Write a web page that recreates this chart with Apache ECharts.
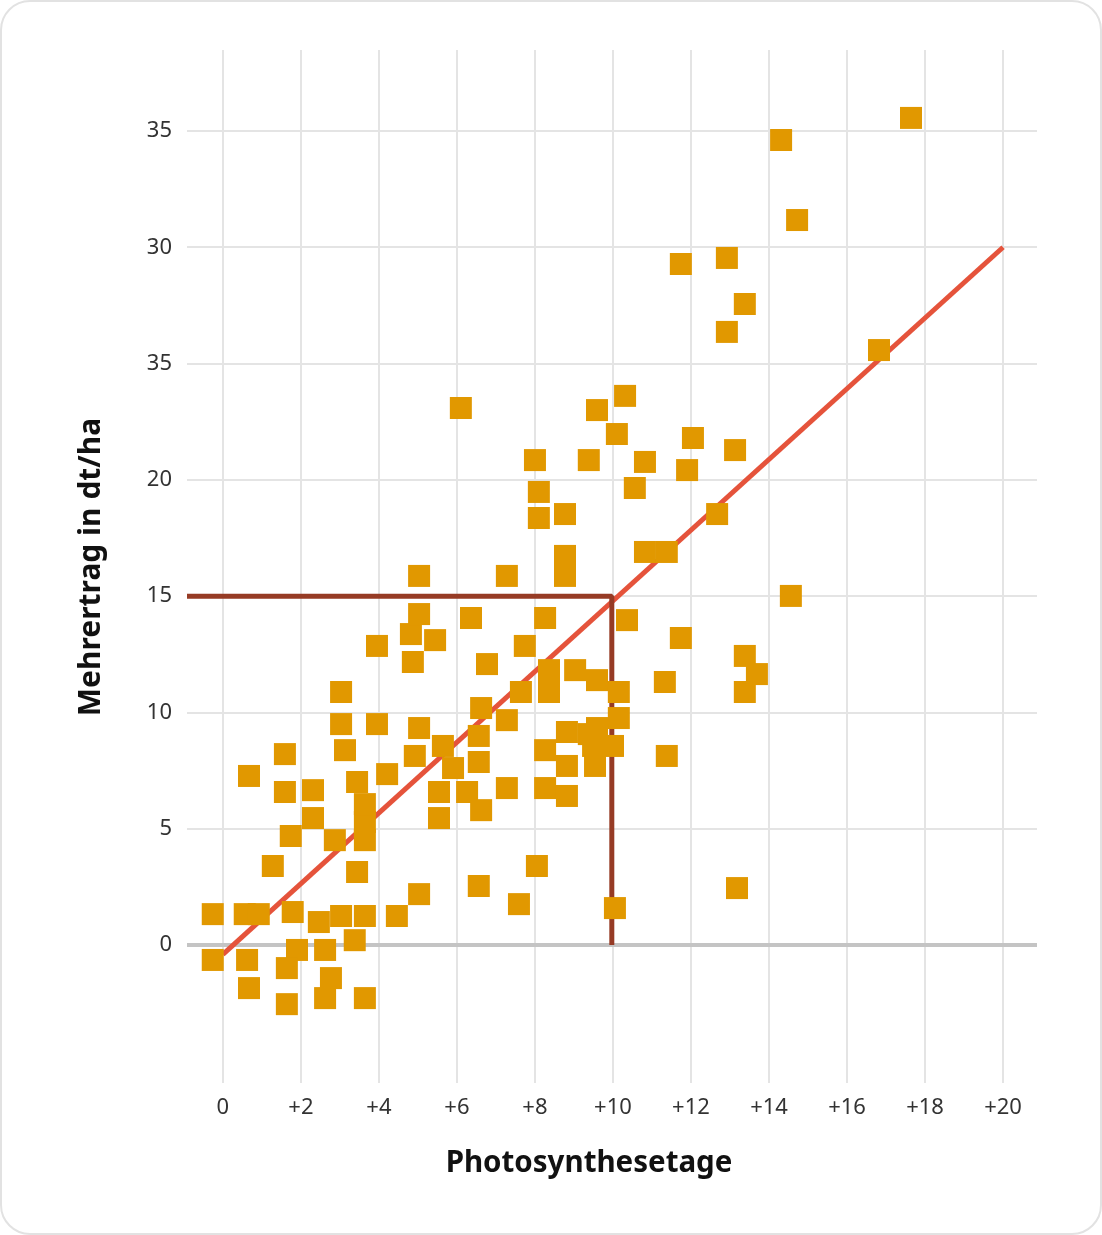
<!DOCTYPE html>
<html><head><meta charset="utf-8">
<script src="https://cdn.jsdelivr.net/npm/echarts@6/dist/echarts.min.js"></script>
<style>
html,body{margin:0;padding:0;background:#fff;}
#chart{position:absolute;left:0;top:0;width:1102px;height:1235px;}
#card{position:absolute;left:0;top:0;width:1102px;height:1235px;box-sizing:border-box;border:2px solid #e2e2e2;border-radius:30px;pointer-events:none;}
</style></head><body>
<div id="chart"></div><div id="card"></div>
<script>
// Photosynthesis days (x) and extra yield in dt/ha (y)
const xValues = [
  -0.26, 0.56, 0.92, 1.79, 2.46, 3.03, 3.64, 4.46, 3.38, -0.26,
  0.62, 1.90, 2.62, 1.64, 2.77, 0.67, 1.64, 2.62, 3.64, 1.28,
  3.44, 1.74, 2.87, 3.64, 3.64, 3.64, 2.31, 1.59, 2.31, 3.44,
  4.21, 0.67, 1.59, 3.13, 3.03, 3.95, 3.03, 3.95, 5.03, 4.92,
  5.64, 5.90, 5.54, 6.26, 5.54, 6.62, 7.28, 6.56, 6.56, 6.62,
  7.28, 6.77, 4.82, 5.44, 4.87, 5.03, 5.03, 6.36, 7.28, 7.74,
  7.64, 8.26, 8.36, 8.36, 9.03, 9.59, 10.15, 10.15, 8.82, 9.38,
  9.59, 9.49, 10.00, 9.54, 8.82, 8.26, 8.26, 8.82, 8.05, 6.56,
  5.03, 7.59, 10.05, 10.36, 8.77, 8.77, 8.77, 8.10, 8.10, 8.00,
  9.38, 6.10, 9.59, 10.31, 10.10, 10.82, 10.56, 12.05, 11.90, 13.13,
  12.67, 10.82, 11.38, 14.56, 11.74, 11.33, 13.38, 13.69, 13.38, 11.38,
  13.18, 17.64, 14.31, 14.72, 11.74, 12.92, 13.38, 12.92, 16.82
];
const yValues = [
  1.33, 1.33, 1.33, 1.42, 0.99, 1.25, 1.25, 1.25, 0.21, -0.64,
  -0.64, -0.21, -0.21, -0.99, -1.42, -1.85, -2.54, -2.28, -2.28, 3.40,
  3.14, 4.69, 4.51, 4.51, 5.29, 6.06, 5.46, 6.58, 6.66, 7.01,
  7.35, 7.27, 8.21, 8.38, 9.50, 9.50, 10.88, 12.86, 9.33, 8.13,
  8.56, 7.61, 6.58, 6.58, 5.46, 5.80, 6.75, 7.87, 8.99, 10.19,
  9.67, 12.08, 13.37, 13.11, 12.17, 14.23, 15.87, 14.06, 15.87, 12.86,
  10.88, 14.06, 11.82, 10.88, 11.82, 11.39, 10.88, 9.76, 9.16, 9.07,
  9.33, 8.56, 8.56, 7.70, 7.70, 8.38, 6.75, 6.41, 3.40, 2.54,
  2.19, 1.76, 1.59, 13.97, 16.73, 15.87, 18.53, 18.36, 19.48, 20.85,
  20.85, 23.09, 23.00, 23.61, 21.97, 20.77, 19.65, 21.80, 20.42, 21.28,
  18.53, 16.90, 16.90, 15.01, 13.20, 11.31, 12.43, 11.65, 10.88, 8.13,
  2.45, 35.56, 34.61, 31.17, 29.28, 29.54, 27.56, 26.36, 25.58
];
// Regression line endpoints
const trendX = [0, 20];
const trendY = [-0.4, 30];
// Reading guide at 10 days -> 15 dt/ha
const guideX = 9.97;
const guideY = 15;
// Axis ticks and labels
const xTicks = [0, 2, 4, 6, 8, 10, 12, 14, 16, 18, 20];
const xTickLabels = ['0', '+2', '+4', '+6', '+8', '+10', '+12', '+14', '+16', '+18', '+20'];
const yTicks = [0, 5, 10, 15, 20, 25, 30, 35];
const yTickLabels = ['0', '5', '10', '15', '20', '35', '30', '35'];
const xTitle = 'Photosynthesetage';
const yTitle = 'Mehrertrag in dt/ha';

const xMin = -0.92, xMax = 20.87, yMin = -5.93, yMax = 38.48;

function labelFor(ticks, labels, v) {
  for (let i = 0; i < ticks.length; i++) if (Math.abs(ticks[i] - v) < 1e-6) return labels[i];
  return '';
}

const points = xValues.map((x, i) => [x, yValues[i]]);
const gridColor = '#e4e4e4';
const FONT = '"Noto Sans", "Open Sans", sans-serif';

const chart = echarts.init(document.getElementById('chart'), null, {renderer: 'canvas'});
chart.setOption({
  animation: false,
  backgroundColor: 'transparent',
  grid: {left: 187, right: 65, top: 50, bottom: 152, containLabel: false},
  xAxis: {
    type: 'value', min: xMin, max: xMax, splitNumber: 10,
    axisLine: {show: false}, axisTick: {show: false}, splitLine: {show: false},
    axisLabel: {
      margin: 14, color: '#333', fontSize: 22, fontFamily: FONT,
      showMinLabel: true, showMaxLabel: true, hideOverlap: false,
      formatter: v => labelFor(xTicks, xTickLabels, v)
    }
  },
  yAxis: {
    type: 'value', min: yMin, max: yMax, splitNumber: 9,
    axisLine: {show: false}, axisTick: {show: false}, splitLine: {show: false},
    axisLabel: {
      margin: 15, color: '#333', fontSize: 22, fontFamily: FONT, hideOverlap: false,
      formatter: v => labelFor(yTicks, yTickLabels, v)
    }
  },
  graphic: [
    {type: 'text', x: 589, y: 1164, style: {text: xTitle, fontSize: 29.5, fontWeight: 'bold', fontFamily: FONT, fill: '#111', textAlign: 'center', textVerticalAlign: 'middle'}},
    {type: 'text', x: 91, y: 567, rotation: Math.PI / 2, style: {text: yTitle, fontSize: 30, fontWeight: 'bold', fontFamily: FONT, fill: '#111', textAlign: 'center', textVerticalAlign: 'middle'}}
  ],
  series: [
    {
      type: 'line', data: [], z: 1, silent: true,
      markLine: {
        z: 1, silent: true, symbol: 'none', label: {show: false}, animation: false,
        lineStyle: {color: gridColor, width: 2, type: 'solid'},
        emphasis: {disabled: true},
        data: xTicks.map(v => ({xAxis: v})).concat(yTicks.filter(v => v !== 0).map(v => ({yAxis: v})))
      }
    },
    {
      type: 'line', data: [], z: 2, silent: true,
      markLine: {
        z: 2, silent: true, symbol: 'none', label: {show: false}, animation: false,
        lineStyle: {color: '#c4c4c4', width: 4, type: 'solid'},
        emphasis: {disabled: true},
        data: [{yAxis: 0}]
      }
    },
    {
      type: 'line', z: 10, silent: true, symbol: 'none',
      lineStyle: {color: '#e5533b', width: 5},
      data: trendX.map((x, i) => [x, trendY[i]])
    },
    {
      type: 'line', z: 11, silent: true, symbol: 'none',
      lineStyle: {color: '#963b25', width: 5},
      data: [[xMin, guideY], [guideX, guideY], [guideX, 0]]
    },
    {
      type: 'scatter', z: 12, symbol: 'rect', symbolSize: 22,
      itemStyle: {color: '#e19800', opacity: 1},
      data: points
    }
  ]
});
</script>
</body></html>
